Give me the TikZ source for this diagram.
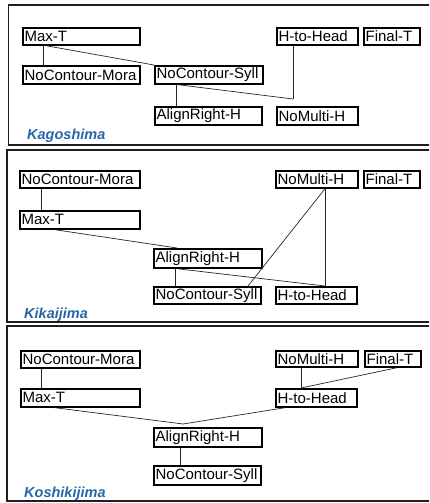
\documentclass[tikz,border=0pt]{standalone}
\usepackage{fontspec}
\setmainfont{Liberation Sans}
\usetikzlibrary{calc}
\definecolor{dialect}{RGB}{37,102,168}
\definecolor{frameline}{RGB}{30,30,30}
\tikzset{
  cbox/.style={draw=black, line width=1.7pt, fill=white, rectangle,
    anchor=north west, inner xsep=1.8pt, inner ysep=0pt, align=left,
    font=\fontsize{15}{15}\selectfont},
  bw/.style 2 args={text width=#1pt-3.6pt, minimum height=#2pt},
  link/.style={draw=black!85, line width=0.7pt},
  panel/.style={draw=frameline, line width=1.8pt},
  dname/.style={anchor=base west, text=dialect,
    font=\fontsize{14.5}{15}\selectfont\bfseries\itshape, inner sep=0pt}
}
\begin{document}
\begin{tikzpicture}[x=1pt, y=-1pt]
\useasboundingbox (0,0) rectangle (429,503);
\clip (0,0) rectangle (429,503);

% panel frames (open to the right)
\draw[panel] (8.5,5) rectangle (445,145);
\draw[panel] (7,150) rectangle (445,322);
\draw[panel] (7,326) rectangle (445,501);

% ---------- Kagoshima ----------
\node[cbox, bw={117}{17}] (maxT1) at (22,27) {Max-T};
\node[cbox, bw={81}{17}]  (htoh1) at (276,27) {H-to-Head};
\node[cbox, bw={56}{17}]  (fin1)  at (363,27) {Final-T};
\node[cbox, bw={117}{18}] (ncm1)  at (22,65) {NoContour-Mora};
\node[cbox, bw={108}{18}] (ncs1)  at (154,65) {NoContour-Syll};
\node[cbox, bw={107}{18}] (arh1)  at (154,106) {AlignRight-H};
\node[cbox, bw={81}{18}]  (nmh1)  at (276,106) {NoMulti-H};
\coordinate (j1) at ($(nmh1.north west)+(17,-7)$);
\node[dname] (lab1) at (27,139) {Kagoshima};

\draw[link] ([xshift=21pt]maxT1.south west) -- ([xshift=21pt]ncm1.north west);
\draw[link] ([xshift=24pt]maxT1.south west) -- (ncs1.north west);
\draw[link] ([xshift=22pt]ncs1.south west) -- ([xshift=22pt]arh1.north west);
\draw[link] ([xshift=24pt]ncs1.south west) -- (j1);
\draw[link] ([xshift=17pt]htoh1.south west) -- (j1);

% ---------- Kikaijima ----------
\node[cbox, bw={120}{17}] (ncm2)  at (19,170) {NoContour-Mora};
\node[cbox, bw={82}{17}]  (nmh2)  at (275,170) {NoMulti-H};
\node[cbox, bw={56}{17}]  (fin2)  at (363,170) {Final-T};
\node[cbox, bw={120}{18}] (maxT2) at (19,210) {Max-T};
\node[cbox, bw={108}{19}] (arh2)  at (153,248) {AlignRight-H};
\node[cbox, bw={107}{17}] (ncs2)  at (153,286) {NoContour-Syll};
\node[cbox, bw={81}{17}]  (htoh2) at (275,286) {H-to-Head};
\node[dname] (lab2) at (24,318) {Kikaijima};

\draw[link] ([xshift=22pt]ncm2.south west) -- ([xshift=22pt]maxT2.north west);
\draw[link] ([xshift=36pt]maxT2.south west) -- ([xshift=24pt]arh2.north west);
\draw[link] ([xshift=22pt]arh2.south west) -- ([xshift=22pt]ncs2.north west);
\draw[link] ([xshift=24pt]arh2.south west) -- ([xshift=50pt]htoh2.north west);
\draw[link] ([xshift=50pt]nmh2.south west) -- ([xshift=50pt]htoh2.north west);
\draw[link] ([xshift=50pt]nmh2.south west) -- ([xshift=95pt]ncs2.north west);

% ---------- Koshikijima ----------
\node[cbox, bw={119}{17}] (ncm3)  at (20,350) {NoContour-Mora};
\node[cbox, bw={82}{16}]  (nmh3)  at (275,350) {NoMulti-H};
\node[cbox, bw={56}{16}]  (fin3)  at (364,350) {Final-T};
\node[cbox, bw={119}{18}] (maxT3) at (20,388) {Max-T};
\node[cbox, bw={81}{18}]  (htoh3) at (275,388) {H-to-Head};
\node[cbox, bw={108}{19}] (arh3)  at (153,427) {AlignRight-H};
\node[cbox, bw={107}{19}] (ncs3)  at (153,465) {NoContour-Syll};
\coordinate (j3) at ($(arh3.north west)+(30,-3)$);
\node[dname] (lab3) at (24,497) {Koshikijima};

\draw[link] ([xshift=21pt]ncm3.south west) -- ([xshift=21pt]maxT3.north west);
\draw[link] ([xshift=26pt]nmh3.south west) -- ([xshift=26pt]htoh3.north west);
\draw[link] ([xshift=33pt]fin3.south west) -- ([xshift=26pt]htoh3.north west);
\draw[link] ([xshift=35pt]maxT3.south west) -- (j3);
\draw[link] ([xshift=10pt]htoh3.south west) -- (j3);
\draw[link] ([xshift=27pt]arh3.south west) -- ([xshift=27pt]ncs3.north west);
\end{tikzpicture}
\end{document}
